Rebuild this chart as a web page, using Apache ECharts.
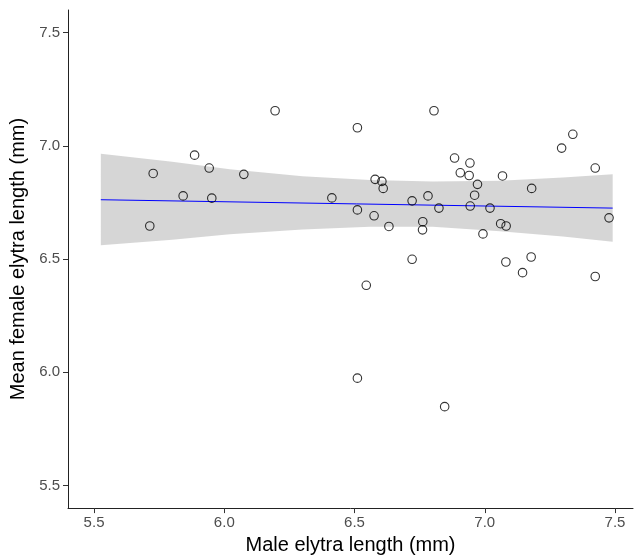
<!DOCTYPE html>
<html>
<head>
<meta charset="utf-8">
<script src="https://cdn.jsdelivr.net/npm/echarts@6/dist/echarts.min.js"></script>
<style>
  html, body { margin: 0; padding: 0; background: #fff; }
  #chart { width: 636px; height: 560px; }
</style>
</head>
<body>
<div id="chart"></div>
<script>
// male elytra length (x) and mean female elytra length (y)
const maleLength = [
  5.727, 5.886, 5.942, 6.075, 5.842, 5.952, 5.714, 6.195, 6.413, 6.511, 6.511,
  6.805, 6.579, 6.605, 6.610, 6.575, 6.632, 6.721, 6.782, 6.824, 6.762, 6.761,
  6.721, 6.884, 6.943, 6.906, 6.940, 6.972, 6.961, 6.944, 7.020, 6.993, 7.068,
  7.061, 7.082, 7.081, 7.180, 7.178, 7.145, 7.295, 7.338, 7.424, 7.477, 7.424,
  6.545, 6.511, 6.846
];
const femaleLength = [
  6.878, 6.959, 6.902, 6.874, 6.779, 6.769, 6.646, 7.155, 6.770, 7.080, 6.717,
  7.155, 6.852, 6.843, 6.812, 6.691, 6.644, 6.757, 6.779, 6.725, 6.665, 6.629,
  6.499, 6.946, 6.924, 6.881, 6.869, 6.830, 6.782, 6.734, 6.725, 6.611, 6.867,
  6.656, 6.646, 6.487, 6.812, 6.509, 6.440, 6.990, 7.051, 6.902, 6.682, 6.423,
  6.384, 5.974, 5.848
];

// fitted line and its confidence band
const fitX = [5.526, 7.491];
const fitY = [6.762, 6.725];
const bandX = [5.526, 5.8, 6.021, 6.3, 6.559, 6.8, 7.058, 7.3, 7.491];
const bandUpper = [6.965, 6.930, 6.897, 6.866, 6.849, 6.843, 6.846, 6.860, 6.875];
const bandLower = [6.561, 6.585, 6.609, 6.630, 6.643, 6.643, 6.623, 6.600, 6.576];

const xTicks = [5.5, 6.0, 6.5, 7.0, 7.5];
const yTicks = [5.5, 6.0, 6.5, 7.0, 7.5];

const chart = echarts.init(document.getElementById('chart'));

const axisCommon = {
    type: 'value',
    nameLocation: 'middle',
    nameTextStyle: { fontFamily: 'Liberation Sans', fontSize: 20, color: '#000' },
    axisLine: { show: true, onZero: false, lineStyle: { color: '#222', width: 1 } },
    axisTick: { show: true, length: 5, lineStyle: { color: '#333', width: 1 } },
    axisLabel: {
        fontFamily: 'Liberation Sans',
        fontSize: 15,
        color: '#4d4d4d',
        formatter: v => Number(v).toFixed(1)
    },
    splitLine: { show: false }
};

const option = {
    animation: false,
    grid: { left: 68, right: 3, top: 10, bottom: 48 },
    xAxis: {
        ...axisCommon,
        name: 'Male elytra length (mm)',
        nameGap: 26,
        min: 5.4,
        max: 7.569,
        axisTick: { ...axisCommon.axisTick, customValues: xTicks },
        axisLabel: { ...axisCommon.axisLabel, margin: 7, customValues: xTicks }
    },
    yAxis: {
        ...axisCommon,
        name: 'Mean female elytra length (mm)',
        nameGap: 36,
        min: 5.4,
        max: 7.6,
        axisTick: { ...axisCommon.axisTick, customValues: yTicks },
        axisLabel: { ...axisCommon.axisLabel, margin: 8, customValues: yTicks }
    },
    series: [
        {
            // grey confidence ribbon
            type: 'custom',
            z: 1,
            data: [[bandX[0], bandUpper[0]]],
            renderItem: (params, api) => {
                const pts = [];
                bandX.forEach((x, i) => pts.push(api.coord([x, bandUpper[i]])));
                for (let i = bandX.length - 1; i >= 0; i--) {
                    pts.push(api.coord([bandX[i], bandLower[i]]));
                }
                return {
                    type: 'polygon',
                    shape: { points: pts },
                    style: { fill: 'rgba(153,153,153,0.4)' }
                };
            },
            silent: true
        },
        {
            type: 'line',
            z: 2,
            data: fitX.map((x, i) => [x, fitY[i]]),
            symbol: 'none',
            lineStyle: { color: '#0000ff', width: 1 },
            silent: true
        },
        {
            type: 'scatter',
            z: 3,
            data: maleLength.map((x, i) => [x, femaleLength[i]]),
            symbol: 'circle',
            symbolSize: 8.5,
            itemStyle: { color: 'rgba(0,0,0,0)', borderColor: '#000', borderWidth: 1.1 }
        }
    ]
};

chart.setOption(option);
</script>
</body>
</html>
